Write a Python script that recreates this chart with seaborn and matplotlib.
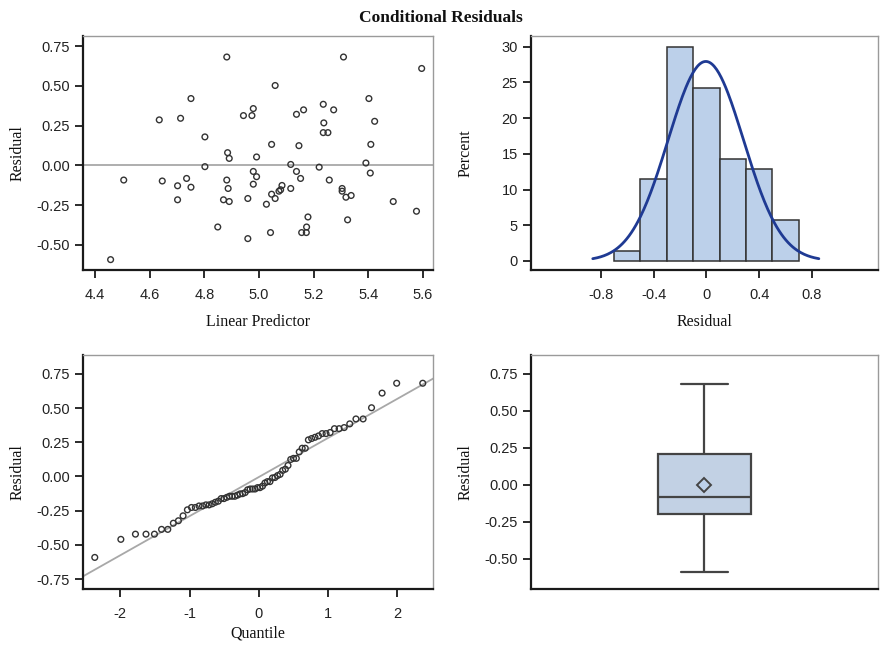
import numpy as np
import pandas as pd
import matplotlib
matplotlib.use("Agg")
import matplotlib.pyplot as plt
import seaborn as sns
from statistics import NormalDist

# Linear predictor and conditional residual for each observation
linear_predictor = [
    4.882, 5.309, 5.595, 5.059, 4.751, 4.635, 4.713, 4.802, 4.943, 4.974,
    4.979, 5.137, 5.163, 5.235, 5.273, 5.237, 5.235, 5.252, 5.402, 5.423,
    5.409, 5.046, 5.146, 4.885, 4.891, 4.991, 4.802, 5.116, 5.220, 5.391,
    5.407, 4.505, 4.646, 4.702, 4.735, 4.751, 4.702, 4.882, 4.887, 4.870,
    4.891, 4.979, 4.991, 4.979, 4.959, 5.027, 5.046, 5.059, 5.073, 5.079,
    5.084, 5.116, 5.137, 5.152, 5.257, 5.304, 5.304, 5.318, 5.337, 5.491,
    5.576, 5.179, 5.324, 4.849, 4.959, 5.042, 5.156, 5.173, 5.174, 4.457,
]
residual = [
    0.681, 0.681, 0.609, 0.502, 0.420, 0.286, 0.296, 0.179, 0.313, 0.313,
    0.357, 0.321, 0.349, 0.384, 0.349, 0.267, 0.206, 0.206, 0.420, 0.277,
    0.132, 0.132, 0.124, 0.080, 0.044, 0.053, -0.008, 0.006, -0.011, 0.015,
    -0.048, -0.092, -0.098, -0.128, -0.082, -0.137, -0.216, -0.092, -0.145, -0.216,
    -0.227, -0.038, -0.071, -0.118, -0.208, -0.244, -0.181, -0.208, -0.162, -0.153,
    -0.126, -0.145, -0.038, -0.082, -0.092, -0.145, -0.162, -0.200, -0.189, -0.227,
    -0.288, -0.324, -0.342, -0.387, -0.460, -0.422, -0.422, -0.422, -0.387, -0.592,
]

bin_edges = [-0.7, -0.5, -0.3, -0.1, 0.1, 0.3, 0.5, 0.7]
hist_xticks = [-0.8, -0.4, 0.0, 0.4, 0.8]
hist_xticklabels = ["-0.8", "-0.4", "0", "0.4", "0.8"]
resid_ticks = [0.75, 0.50, 0.25, 0.00, -0.25, -0.50]
qq_resid_ticks = [0.75, 0.50, 0.25, 0.00, -0.25, -0.50, -0.75]
lp_ticks = [4.4, 4.6, 4.8, 5.0, 5.2, 5.4, 5.6]
qq_xticks = [-2, -1, 0, 1, 2]

df = pd.DataFrame({"Linear Predictor": linear_predictor, "Residual": residual})
res = np.asarray(residual)
n = len(res)
mu = res.mean()
sigma = res.std(ddof=1)

sns.set_style("ticks")
plt.rcParams["font.family"] = ["Liberation Sans", "DejaVu Sans"]
plt.rcParams["axes.unicode_minus"] = False

FILL = "#bcd0ea"
EDGE = "#333333"
CURVE = "#1f3a93"
REF = "#a8a8a8"
SERIF = ["Liberation Serif", "DejaVu Serif"]

fig = plt.figure(figsize=(8.82, 6.51), dpi=100)
ax_sc = fig.add_axes([0.0941, 0.5853, 0.397, 0.3594])
ax_hi = fig.add_axes([0.602, 0.5853, 0.3934, 0.3594])
ax_qq = fig.add_axes([0.0941, 0.0952, 0.397, 0.3594])
ax_bx = fig.add_axes([0.602, 0.0952, 0.3934, 0.3594])


def style_axes(ax, xlabel, ylabel, xlabel_gap=44):
    for side in ("left", "bottom"):
        ax.spines[side].set_color("#1a1a1a")
        ax.spines[side].set_linewidth(1.6)
    for side in ("top", "right"):
        ax.spines[side].set_visible(True)
        ax.spines[side].set_color("#9a9a9a")
        ax.spines[side].set_linewidth(1.0)
    ax.tick_params(axis="both", direction="out", length=5.5, width=1.3,
                   color="#1a1a1a", labelsize=10.5, labelcolor="#222222")
    ax.tick_params(axis="x", pad=7.5)
    ax.tick_params(axis="y", pad=4)
    ax.set_xlabel(xlabel, family=SERIF, fontsize=11.5, color="#111111")
    ax.set_ylabel(ylabel, family=SERIF, fontsize=11.5, color="#111111")
    # labels sit at a fixed distance from the axes
    w_px = ax.get_position().width * fig.get_figwidth() * fig.dpi
    h_px = ax.get_position().height * fig.get_figheight() * fig.dpi
    ax.xaxis.set_label_coords(0.5, -xlabel_gap / h_px)
    ax.yaxis.set_label_coords(-57 / w_px, 0.5)


circle = dict(marker="o", facecolor="none", edgecolor="#333333", linewidth=1.0, s=17)

# Residual vs linear predictor
ax_sc.axhline(0, color=REF, linewidth=1.3, zorder=1)
sns.scatterplot(data=df, x="Linear Predictor", y="Residual", ax=ax_sc, zorder=3, **circle)
ax_sc.set_xlim(4.356, 5.637)
ax_sc.set_ylim(-0.657, 0.813)
ax_sc.set_xticks(lp_ticks)
ax_sc.set_xticklabels([f"{v:.1f}" for v in lp_ticks])
ax_sc.set_yticks(resid_ticks)
ax_sc.set_yticklabels([f"{v:.2f}" for v in resid_ticks])
style_axes(ax_sc, "Linear Predictor", "Residual", 44)

# Histogram with fitted normal density
sns.histplot(x=res, bins=bin_edges, stat="percent", ax=ax_hi, color=FILL,
             edgecolor=EDGE, linewidth=1.1, alpha=1.0)
xs = np.linspace(mu - 3 * sigma, mu + 3 * sigma, 200)
dens = np.array([NormalDist(mu, sigma).pdf(v) for v in xs]) * 0.2 * 100
sns.lineplot(x=xs, y=dens, ax=ax_hi, color=CURVE, linewidth=2.0)
ax_hi.set_xlim(-1.33, 1.30)
ax_hi.set_ylim(-1.27, 31.5)
ax_hi.set_xticks(hist_xticks)
ax_hi.set_xticklabels(hist_xticklabels)
ax_hi.set_yticks([0, 5, 10, 15, 20, 25, 30])
style_axes(ax_hi, "Residual", "Percent", 44)

# Normal quantile plot
sorted_res = np.sort(res)
quantiles = np.array([NormalDist().inv_cdf((i - 0.375) / (n + 0.25)) for i in range(1, n + 1)])
qline_x = np.array([-2.6, 2.6])
sns.lineplot(x=qline_x, y=mu + sigma * qline_x, ax=ax_qq, color=REF, linewidth=1.3)
sns.scatterplot(x=quantiles, y=sorted_res, ax=ax_qq, zorder=3, **circle)
ax_qq.set_xlim(-2.54, 2.52)
ax_qq.set_ylim(-0.823, 0.887)
ax_qq.set_xticks(qq_xticks)
ax_qq.set_yticks(qq_resid_ticks)
ax_qq.set_yticklabels([f"{v:.2f}" for v in qq_resid_ticks])
style_axes(ax_qq, "Quantile", "Residual", 36)

# Box plot of residuals
sns.boxplot(y=res, ax=ax_bx, width=0.27, whis=(0, 100), showmeans=True,
            color=FILL, linewidth=1.6, linecolor="#444444", fliersize=0,
            meanprops=dict(marker="D", markerfacecolor=FILL,
                           markeredgecolor="#444444", markersize=7,
                           markeredgewidth=1.4))
ax_bx.set_xlim(-0.5, 0.5)
ax_bx.set_ylim(-0.705, 0.876)
ax_bx.set_yticks(resid_ticks)
ax_bx.set_yticklabels([f"{v:.2f}" for v in resid_ticks])
style_axes(ax_bx, "", "Residual")
ax_bx.set_xticks([])
ax_bx.tick_params(axis="x", length=0)

fig.text(0.5, 0.972, "Conditional Residuals", ha="center", va="center",
         family=SERIF, fontsize=12.5, fontweight="bold", color="#111111")

fig.savefig("out.png", dpi=100)
